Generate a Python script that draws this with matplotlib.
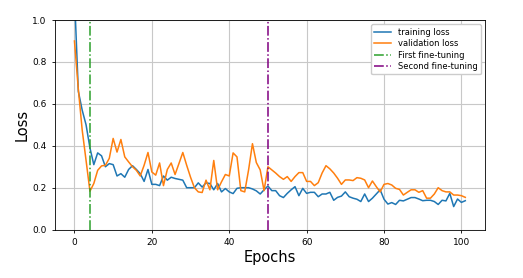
import numpy as np
import matplotlib
matplotlib.use('Agg')
import matplotlib.pyplot as plt

# Dados
train_loss = [1.12, 0.66, 0.57, 0.50, 0.39, 0.31, 0.366, 0.352, 0.30, 0.315,
              0.31, 0.256, 0.267, 0.25, 0.287, 0.305, 0.287, 0.267, 0.23, 0.287,
              0.216, 0.216, 0.21, 0.256, 0.236, 0.25, 0.244, 0.24, 0.236, 0.20,
              0.20, 0.20, 0.223, 0.203, 0.223, 0.22, 0.19, 0.22, 0.18, 0.196,
              0.18, 0.172, 0.197, 0.20, 0.20, 0.20, 0.194, 0.185, 0.17, 0.19,
              0.208, 0.186, 0.186, 0.162, 0.153, 0.173, 0.19, 0.205, 0.162, 0.197,
              0.173, 0.178, 0.178, 0.157, 0.17, 0.17, 0.178, 0.14, 0.154, 0.16,
              0.18, 0.157, 0.15, 0.145, 0.134, 0.17, 0.134, 0.15, 0.17, 0.19,
              0.145, 0.122, 0.129, 0.12, 0.14, 0.137, 0.145, 0.153, 0.153, 0.146,
              0.138, 0.14, 0.14, 0.134, 0.12, 0.14, 0.137, 0.173, 0.11, 0.146,
              0.13, 0.138]
val_loss = [0.90, 0.67, 0.475, 0.33, 0.183, 0.22, 0.283, 0.304, 0.307, 0.34,
            0.435, 0.37, 0.43, 0.347, 0.323, 0.30, 0.283, 0.256, 0.307, 0.368,
            0.275, 0.26, 0.318, 0.21, 0.287, 0.318, 0.263, 0.315, 0.368, 0.307,
            0.25, 0.20, 0.18, 0.177, 0.236, 0.19, 0.33, 0.19, 0.228, 0.263,
            0.256, 0.366, 0.347, 0.186, 0.18, 0.285, 0.41, 0.32, 0.285, 0.186,
            0.30, 0.285, 0.27, 0.253, 0.24, 0.253, 0.23, 0.253, 0.272, 0.272,
            0.23, 0.23, 0.21, 0.224, 0.27, 0.305, 0.29, 0.27, 0.245, 0.216,
            0.237, 0.237, 0.234, 0.248, 0.245, 0.237, 0.20, 0.232, 0.205, 0.18,
            0.216, 0.22, 0.213, 0.197, 0.192, 0.165, 0.178, 0.19, 0.19, 0.178,
            0.186, 0.15, 0.15, 0.17, 0.20, 0.186, 0.18, 0.18, 0.165, 0.165,
            0.162, 0.154]
epocas = np.arange(len(train_loss))
primeiro_ft = 4
segundo_ft = 50

fig = plt.figure(figsize=(5.23, 2.78), dpi=100)
ax = fig.add_axes([0.105, 0.174, 0.822, 0.754])

ax.plot(epocas, train_loss, color='tab:blue', lw=1.1, label='training loss')
ax.plot(epocas, val_loss, color='tab:orange', lw=1.1, label='validation loss')
ax.axvline(primeiro_ft, color='tab:green', ls='-.', lw=1.1, label='First fine-tuning')
ax.axvline(segundo_ft, color='purple', ls='-.', lw=1.1, label='Second fine-tuning')

ax.set_ylim(0, 1)
ax.grid(True, color='#c8c8c8', lw=0.8)
ax.tick_params(labelsize=6.5, length=2.5, width=0.6)
for s in ax.spines.values():
    s.set_linewidth(0.6)
ax.set_xlabel('Epochs', fontsize=10.5, labelpad=2)
ax.set_ylabel('Loss', fontsize=10.5, labelpad=2)
ax.legend(loc='upper right', fontsize=6, handlelength=2.0, borderpad=0.4,
          labelspacing=0.3, framealpha=1.0)

plt.savefig('out.png', dpi=100)
plt.close()
